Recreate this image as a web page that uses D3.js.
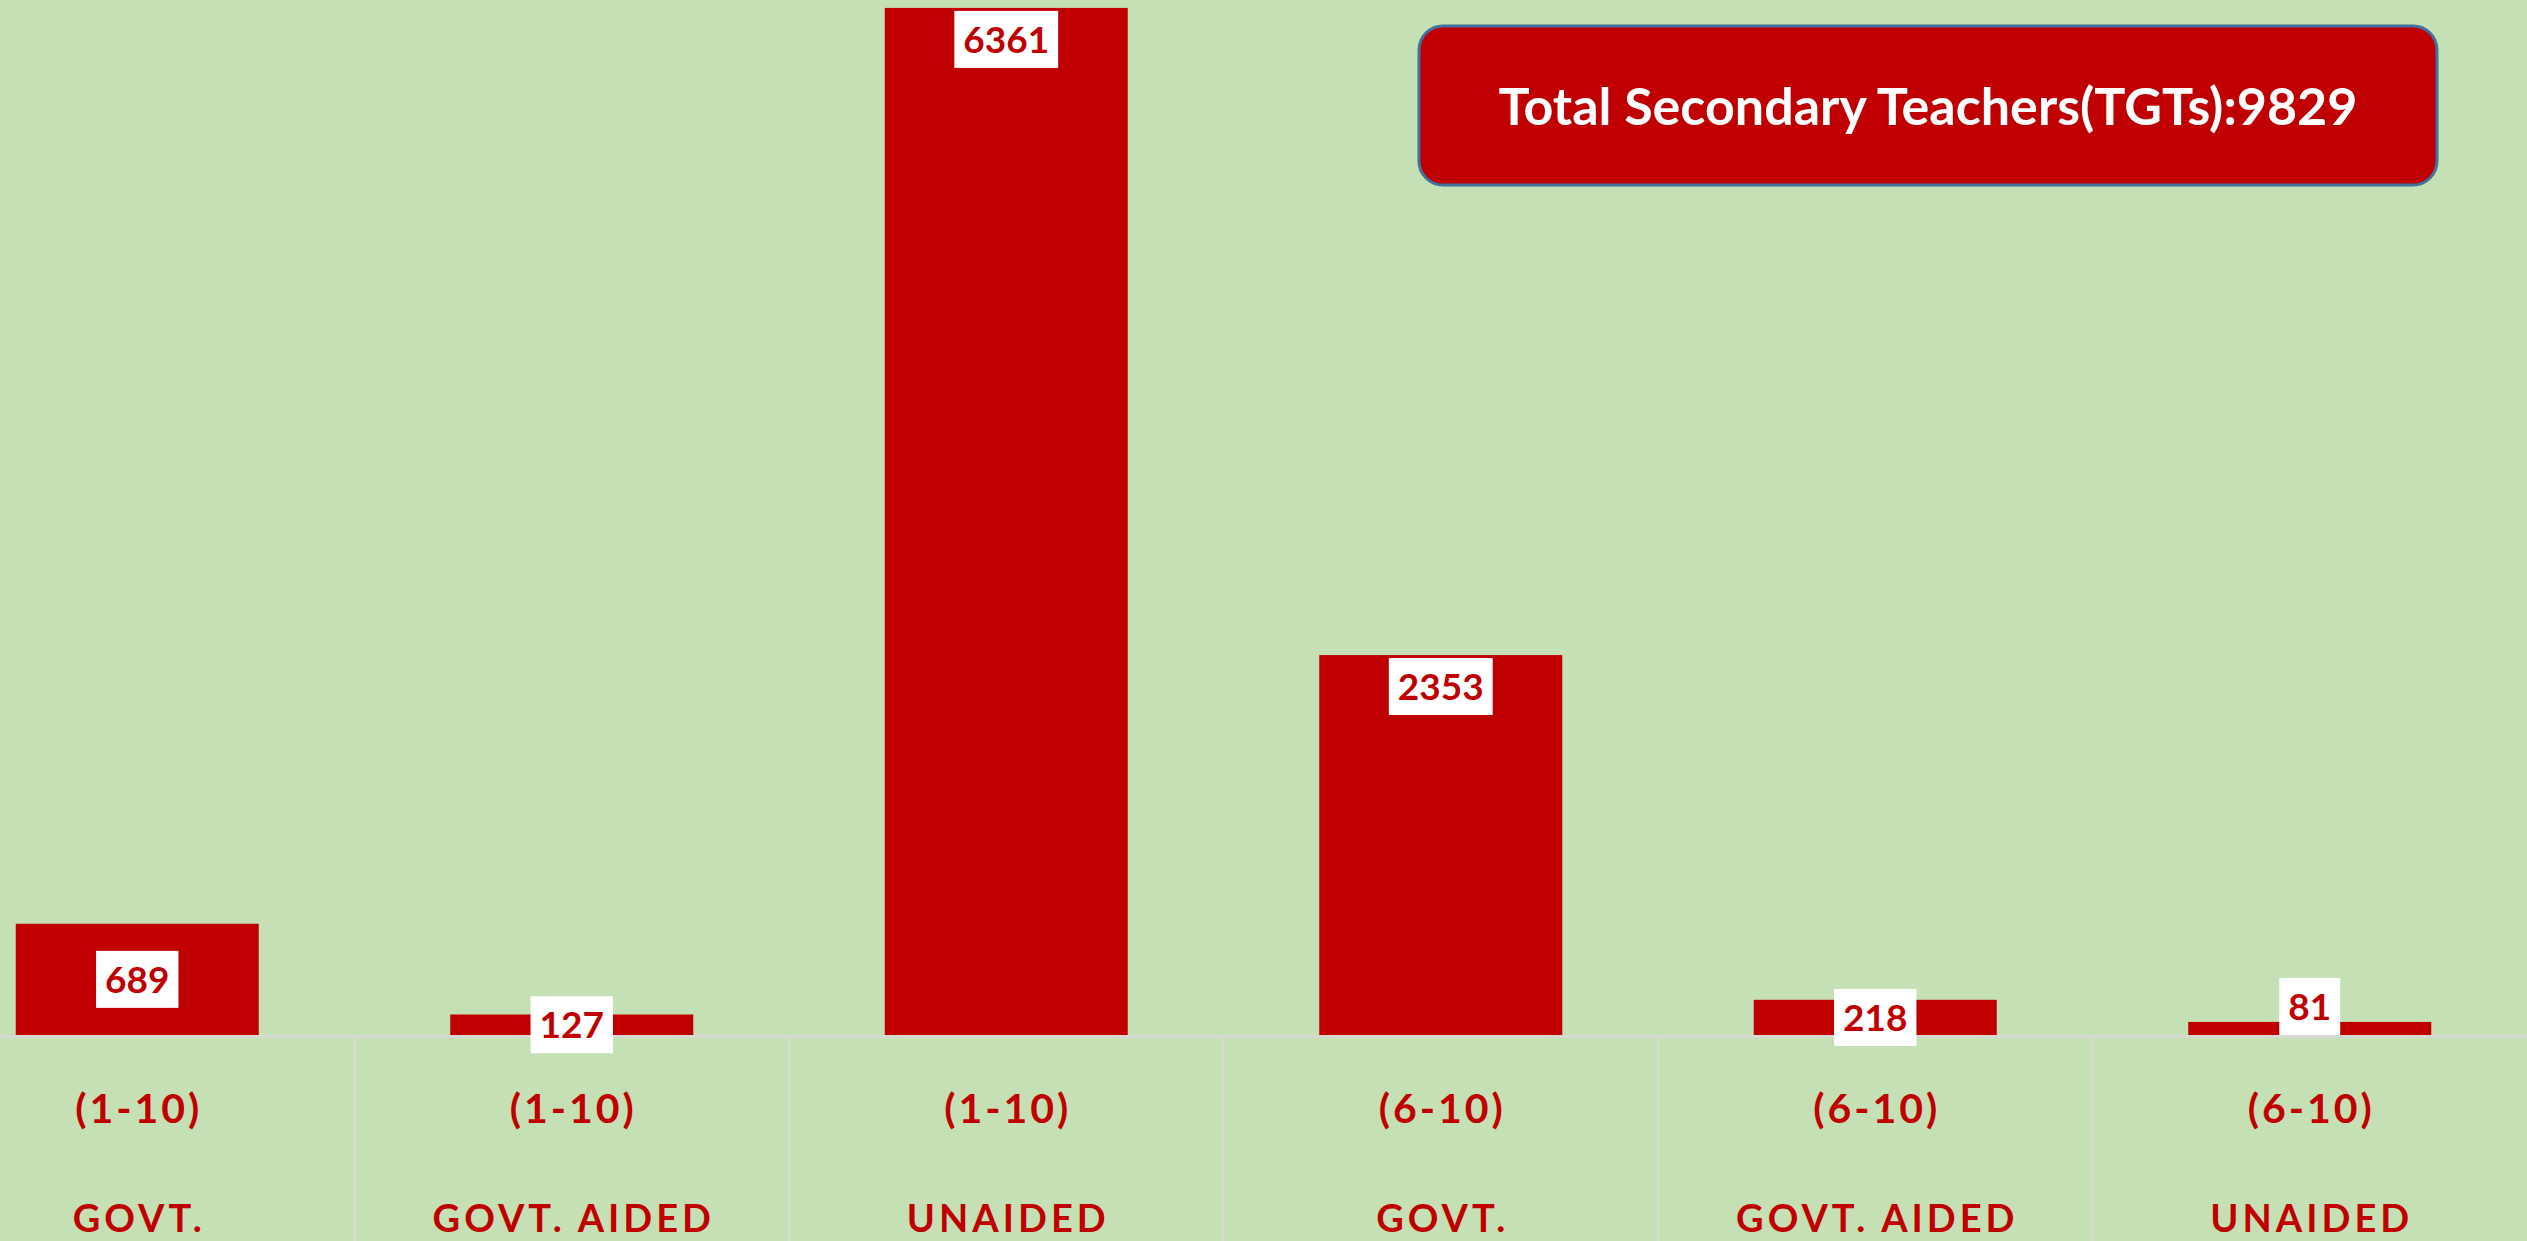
<!DOCTYPE html>
<html><head><meta charset="utf-8">
<script src="https://cdn.jsdelivr.net/npm/d3@7"></script>
<style>html,body{margin:0;padding:0;background:#C5E0B4;overflow:hidden}</style>
</head><body><svg id="c" width="2527" height="1241"></svg>
<script>
// ---- data ----
const categories = ["GOVT.", "GOVT. AIDED", "UNAIDED", "GOVT.", "GOVT. AIDED", "UNAIDED"];
const classRanges = ["(1-10)", "(1-10)", "(1-10)", "(6-10)", "(6-10)", "(6-10)"];
const teachers = [689, 127, 6361, 2353, 218, 81];
const labelPlacement = ["center", "center", "insideEnd", "insideEnd", "center", "onBase"];
const titleText = "Total Secondary Teachers(TGTs):9829";
const yMax = 6410;

// ---- layout ----
const W = 2527, H = 1241;
const baseY = 1035;
const RED = "#C00000", BG = "#C5E0B4", GRID = "#D9D9D9";
const FONT = "Lato, 'Open Sans', sans-serif";

const svg = d3.select("#c");
svg.append("rect").attr("width", W).attr("height", H).attr("fill", BG);

const idx = d3.range(teachers.length);
const x = d3.scaleBand().domain(idx).range([-80, W]).paddingInner(0.4407).paddingOuter(0.4407 / 2);
const y = d3.scaleLinear().domain([0, yMax]).range([baseY, 0]);

// axis baseline
const axisG = svg.append("g").attr("transform", `translate(0,${baseY + 1})`)
  .call(d3.axisBottom(x).tickSize(0).tickSizeOuter(0).tickFormat(""));
axisG.select(".domain").attr("stroke", GRID).attr("stroke-width", 2.5);

// category separators
const step = x.step();
svg.append("g").selectAll("line").data(idx.slice(1)).join("line")
  .attr("x1", i => x(i) + x.bandwidth() / 2 - step / 2)
  .attr("x2", i => x(i) + x.bandwidth() / 2 - step / 2)
  .attr("y1", baseY + 1).attr("y2", H)
  .attr("stroke", GRID).attr("stroke-width", 2);

// bars
svg.append("g").selectAll("rect").data(idx).join("rect")
  .attr("x", i => x(i)).attr("width", x.bandwidth())
  .attr("y", i => y(teachers[i])).attr("height", i => baseY - y(teachers[i]))
  .attr("fill", RED);

// value labels
const boxH = 57, pad = 9;
const lg = svg.append("g").selectAll("g").data(idx).join("g");
lg.each(function(i) {
  const g = d3.select(this);
  const top = y(teachers[i]);
  let cy;
  if (labelPlacement[i] === "insideEnd") cy = top + 3 + boxH / 2;
  else if (labelPlacement[i] === "onBase") cy = baseY - boxH / 2;
  else cy = (top + baseY) / 2;
  const cx = x(i) + x.bandwidth() / 2;
  const rect = g.append("rect").attr("fill", "#fff");
  const t = g.append("text").text(teachers[i])
    .attr("x", cx).attr("y", cy).attr("text-anchor", "middle").attr("dy", "0.36em")
    .attr("font-family", FONT).attr("font-weight", 700).attr("font-size", 37)
    .attr("fill", RED);
  const w = t.node().getComputedTextLength() + 2 * pad;
  rect.attr("x", cx - w / 2).attr("y", cy - boxH / 2).attr("width", w).attr("height", boxH);
});

// category labels
const cg = svg.append("g").selectAll("g").data(idx).join("g");
cg.append("text").text(i => classRanges[i])
  .attr("x", i => x(i) + x.bandwidth() / 2 + 1.5).attr("y", 1123)
  .attr("text-anchor", "middle").attr("font-family", FONT).attr("font-weight", 700)
  .attr("font-size", 41).attr("letter-spacing", 3).attr("fill", RED);
cg.append("text").text(i => categories[i])
  .attr("x", i => x(i) + x.bandwidth() / 2 + 2).attr("y", 1232)
  .attr("text-anchor", "middle").attr("font-family", FONT).attr("font-weight", 700)
  .attr("font-size", 38).attr("letter-spacing", 4).attr("fill", RED);

// title box
const tb = svg.append("g");
tb.append("rect").attr("x", 1419).attr("y", 26).attr("width", 1018).attr("height", 159)
  .attr("rx", 24).attr("fill", RED).attr("stroke", "#41719C").attr("stroke-width", 3);
tb.append("text").text(titleText).attr("x", 1928).attr("y", 106).attr("dy", "0.36em")
  .attr("text-anchor", "middle").attr("font-family", FONT).attr("font-weight", 700)
  .attr("font-size", 52).attr("fill", "#fff");
</script></body></html>
